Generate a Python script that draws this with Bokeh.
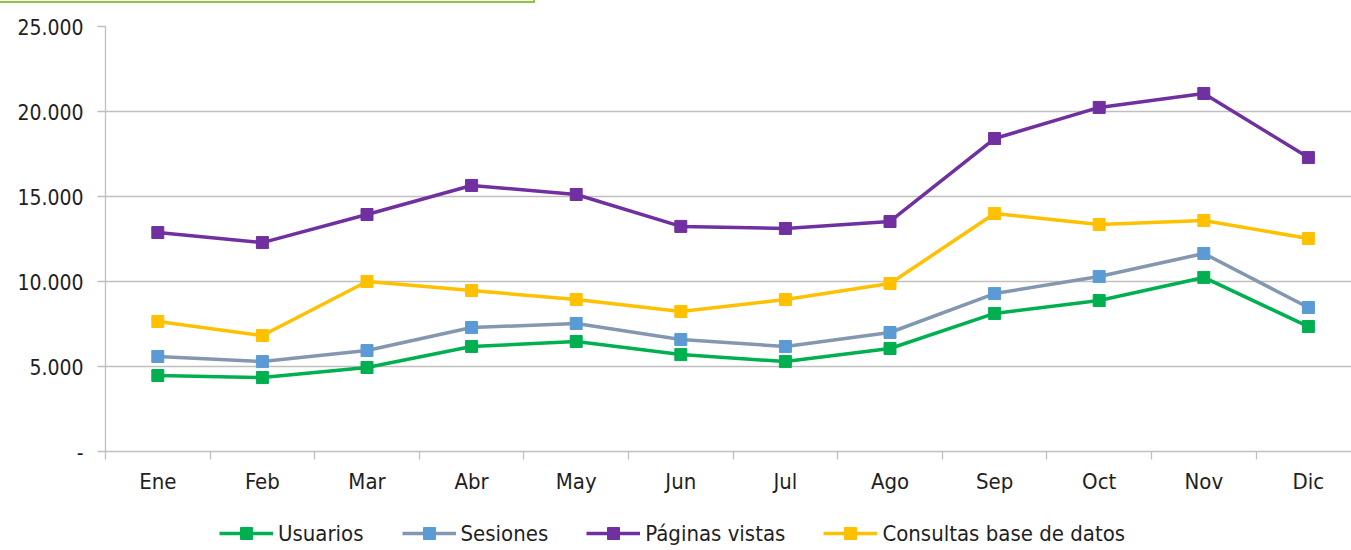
from bokeh.plotting import figure
from bokeh.layouts import column
from bokeh.models import FixedTicker, Range1d, Legend, LegendItem, Div
from bokeh.embed import file_html
from bokeh.resources import INLINE

months = ["Ene", "Feb", "Mar", "Abr", "May", "Jun", "Jul", "Ago", "Sep", "Oct", "Nov", "Dic"]
usuarios = [4470, 4350, 4940, 6180, 6470, 5700, 5290, 6060, 8120, 8880, 10240, 7350]
sesiones = [5590, 5290, 5940, 7290, 7530, 6590, 6180, 7000, 9290, 10290, 11650, 8470]
paginas = [12880, 12290, 13940, 15650, 15120, 13240, 13120, 13530, 18410, 20240, 21060, 17290]
consultas = [7650, 6820, 10000, 9470, 8940, 8240, 8940, 9880, 14000, 13350, 13590, 12530]
y_ticks = [0, 5000, 10000, 15000, 20000, 25000]
y_tick_labels = ["-", "5.000", "10.000", "15.000", "20.000", "25.000"]

series = [
    ("Usuarios", usuarios, "#00B050", "#00B050"),
    ("Sesiones", sesiones, "#8497B0", "#5B9BD5"),
    ("Páginas vistas", paginas, "#7030A0", "#7030A0"),
    ("Consultas base de datos", consultas, "#FFC000", "#FFC000"),
]

FONT = "'DejaVu Sans Condensed', 'Liberation Sans'"
GRID = "#BFBFBF"
TEXT = "#1f1f1f"

W = 1351
H0, H1, H2 = 3, 515, 30
frame_left = 105
frame_w = W - frame_left
cat_px = 104.6

# thin green frame edge seen at the top-left of the picture
top_edge = Div(text="", width=535, height=H0, margin=(0, 0, 0, 0),
               styles={"border-right": "2px solid #8DC63F",
                       "border-bottom": "2px solid #8DC63F",
                       "box-sizing": "border-box"})

p = figure(width=W, height=H1, output_backend="svg", toolbar_location=None,
           min_border_left=frame_left, min_border_right=0, min_border_top=23,
           min_border_bottom=67)
p.x_range = Range1d(0, frame_w / cat_px)
p.y_range = Range1d(0, 25000)
p.outline_line_color = None
p.background_fill_color = "white"
p.border_fill_color = "white"

xs = [i + 0.5 for i in range(len(months))]

for name, vals, lc, mc in series:
    p.line(xs, vals, line_color=lc, line_width=3.5)
    p.scatter(xs, vals, marker="square", size=12, fill_color=mc, line_color=mc)

# x axis
xa = p.xaxis[0]
xa.ticker = FixedTicker(ticks=xs, minor_ticks=list(range(len(months) + 1)))
xa.major_label_overrides = {x: m for x, m in zip(xs, months)}
xa.major_tick_in = 0
xa.major_tick_out = 0
xa.minor_tick_in = 0
xa.minor_tick_out = 8
xa.minor_tick_line_color = GRID
xa.minor_tick_line_width = 1.3
xa.axis_line_color = GRID
xa.axis_line_width = 1.3
xa.major_label_text_font = FONT
xa.major_label_text_font_size = "22px"
xa.major_label_text_color = TEXT
xa.major_label_standoff = 9

# y axis
ya = p.yaxis[0]
ya.ticker = FixedTicker(ticks=y_ticks)
ya.major_label_overrides = {t: l for t, l in zip(y_ticks, y_tick_labels)}
ya.minor_tick_line_color = None
ya.major_tick_in = 0
ya.major_tick_out = 8
ya.major_tick_line_color = GRID
ya.major_tick_line_width = 1.3
ya.axis_line_color = GRID
ya.axis_line_width = 1.3
ya.major_label_text_font = FONT
ya.major_label_text_font_size = "21px"
ya.major_label_text_color = TEXT
ya.major_label_standoff = 14

p.xgrid.grid_line_color = None
p.ygrid.ticker = FixedTicker(ticks=y_ticks)
p.ygrid.grid_line_color = GRID
p.ygrid.grid_line_width = 1.3

# legend strip (its renderers use the same data, kept outside the visible range)
lf = figure(width=W, height=H2, output_backend="svg", toolbar_location=None,
            x_axis_location=None, y_axis_location=None,
            min_border_left=0, min_border_right=0, min_border_top=0, min_border_bottom=0)
lf.x_range = Range1d(-100, -99)
lf.y_range = Range1d(0, 1)
lf.outline_line_color = None
lf.grid.grid_line_color = None
lf.background_fill_color = "white"
lf.border_fill_color = "white"
items = []
for name, vals, lc, mc in series:
    r1 = lf.line(xs, vals, line_color=lc, line_width=3.5)
    r2 = lf.scatter(xs, vals, marker="square", size=12, fill_color=mc, line_color=mc)
    items.append(LegendItem(label=name, renderers=[r1, r2]))

legend = Legend(items=items, orientation="horizontal", location=(114, 0),
                label_text_font=FONT, label_text_font_size="22px",
                label_text_color=TEXT, glyph_width=54, glyph_height=30,
                spacing=38, label_standoff=5, padding=0, margin=0,
                border_line_color=None, background_fill_alpha=0)
lf.add_layout(legend)

layout = column(top_edge, p, lf, spacing=0)
open("out.html", "w").write(file_html(layout, INLINE))
